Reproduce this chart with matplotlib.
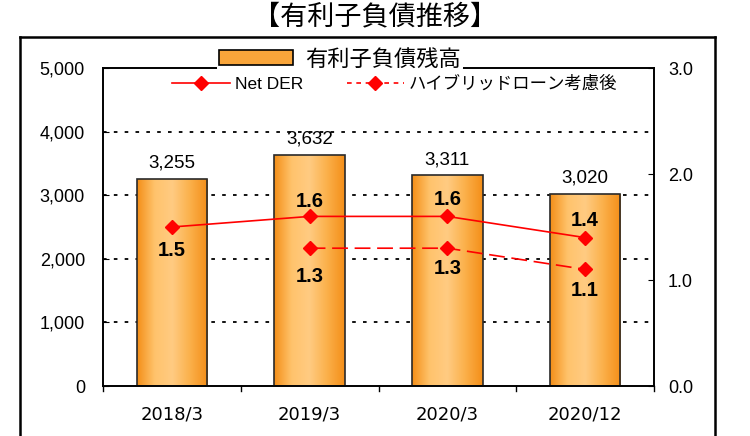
import matplotlib.pyplot as plt
import matplotlib.lines as mlines
import matplotlib.patches as mpatches
from matplotlib.colors import LinearSegmentedColormap
import numpy as np

plt.rcParams['font.family'] = ['Liberation Sans', 'Noto Sans CJK JP']

# data
categories = ['2018/3', '2019/3', '2020/3', '2020/12']
debt = [3255, 3632, 3311, 3020]
net_der = [1.5, 1.6, 1.6, 1.4]
hybrid_x = [1, 2, 3]
hybrid_der = [1.3, 1.3, 1.1]

title = '【有利子負債推移】'
bar_label = '有利子負債残高'
line_label = 'Net DER'
hybrid_label = 'ハイブリッドローン考慮後'

fig = plt.figure(figsize=(7.5, 4.36), dpi=100)
ax = fig.add_axes([103/750, 1-386/436, 551/750, 318/436])
ax2 = ax.twinx()
ax.set_zorder(1)
ax2.set_zorder(2)
ax.patch.set_visible(False)

x = np.arange(len(categories))

# gridlines
for v in [1000, 2000, 3000, 4000]:
    ax.axhline(v, color='black', lw=1.3, ls=(0, (2, 4)), zorder=0)

# bars with horizontal gradient
grad = LinearSegmentedColormap.from_list('g', ['#F48E18', '#FFC36C', '#FFCB82', '#FBB04A', '#F48E18'])
bars = ax.bar(x, debt, width=0.51, facecolor='none', edgecolor='#2a2a2a', lw=1.2, zorder=3)
gimg = np.linspace(0, 1, 256).reshape(1, -1)
for b in bars:
    x0, w, h = b.get_x(), b.get_width(), b.get_height()
    im = ax.imshow(gimg, cmap=grad, extent=(x0, x0+w, 0, h), aspect='auto', zorder=2)
    im.set_clip_path(b)
    ax.text(x0+w/2, h+250, f'{h:,.0f}', ha='center', va='center', fontsize=13.5)
ax.set_xlim(-0.5, len(categories)-0.5)
ax.set_ylim(0, 5000)
ax2.set_ylim(0, 3.0)

# lines
ax2.plot(x, net_der, color='red', lw=1.2, marker='D', ms=7, zorder=5)
ax2.plot(hybrid_x, hybrid_der, color='red', lw=1.2, ls=(0, (9.5, 4)), marker='D', ms=7, zorder=5)
net_offs = [-0.22, 0.14, 0.16, 0.16]
hyb_offs = [-0.27, -0.19, -0.20]
for i, v in enumerate(net_der):
    ax2.text(x[i], v+net_offs[i], f'{v:.1f}', ha='center', va='center', fontsize=14.5, fontweight='bold')
for xi, v, o in zip(hybrid_x, hybrid_der, hyb_offs):
    ax2.text(xi, v+o, f'{v:.1f}', ha='center', va='center', fontsize=14.5, fontweight='bold')

# axes styling
ax.set_yticks([0, 1000, 2000, 3000, 4000, 5000])
ax.set_yticklabels([f'{v:,}' for v in [0, 1000, 2000, 3000, 4000, 5000]], fontsize=13)
ax.tick_params(axis='y', direction='in', length=4, pad=13)
ax.set_xticks(x)
ax.set_xticklabels(categories, fontsize=13, family=['DejaVu Sans'])
ax.tick_params(axis='x', length=0, pad=14)
for b in np.arange(-0.5, len(categories), 1.0):
    ax.plot([b, b], [0, -0.016], transform=ax.get_xaxis_transform(), color='black', lw=1, clip_on=False)
ax2.set_yticks([0, 1.0, 2.0, 3.0])
ax2.set_yticklabels(['0.0', '1.0', '2.0', '3.0'], fontsize=13)
ax2.tick_params(axis='y', direction='in', length=4, pad=10)
for a in (ax, ax2):
    for s in a.spines.values():
        s.set_linewidth(1.2)

# legend
bar_handle = mpatches.Patch(facecolor='#F9A53A', edgecolor='black', lw=1.2)
leg1 = ax2.legend([bar_handle], [bar_label], loc='center', bbox_to_anchor=(0.43, 1.025),
                  frameon=True, fontsize=16, handlelength=3.3, handleheight=0.68, borderpad=0.1,
                  handletextpad=0.55, framealpha=1, edgecolor='none')
ax2.add_artist(leg1)
h1 = mlines.Line2D([], [], color='red', lw=1.2, marker='D', ms=7)
h2 = mlines.Line2D([], [], color='red', lw=1.2, ls=(0, (2.8, 2.8)), marker='D', ms=7)
ax2.legend([h1, h2], [line_label, hybrid_label], loc='center', bbox_to_anchor=(0.53, 0.95),
           ncol=2, frameon=True, fontsize=12.5, handlelength=3.3, columnspacing=2.5,
           borderpad=0.1, handletextpad=0.3, framealpha=1, edgecolor='none')

# title and outer frame
fig.text(0.5, 1-17/436, title, ha='center', va='center', fontsize=19.5, family=['Noto Sans CJK JP'])
fig.add_artist(mlines.Line2D([20/750, 715/750], [1-37/436, 1-37/436], color='black', lw=1.8))
fig.add_artist(mlines.Line2D([20/750, 20/750], [0, 1-37/436], color='black', lw=1.8))
fig.add_artist(mlines.Line2D([715/750, 715/750], [0, 1-37/436], color='black', lw=1.8))

fig.savefig('out.png', dpi=100)
